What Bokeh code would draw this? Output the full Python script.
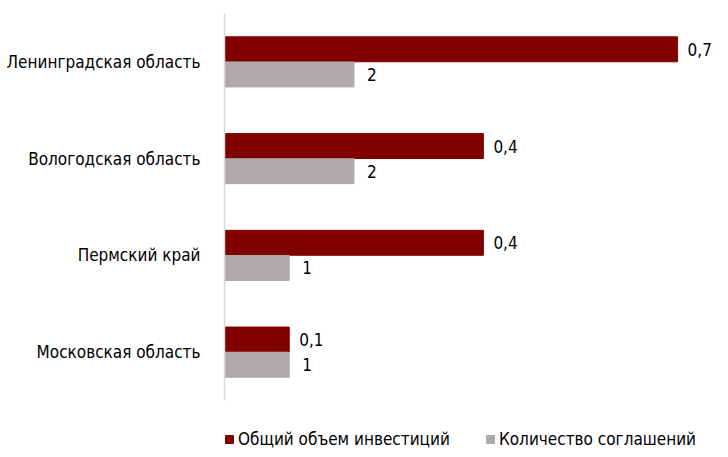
from bokeh.plotting import figure
from bokeh.layouts import column
from bokeh.models import ColumnDataSource, Range1d, Legend, LegendItem
from bokeh.transform import dodge
from bokeh.core.properties import value
from bokeh.embed import file_html
from bokeh.resources import INLINE

regions = ["Ленинградская область", "Вологодская область", "Пермский край", "Московская область"]
investment = [0.7, 0.4, 0.4, 0.1]
agreements = [2, 2, 1, 1]
inv_labels = ["0,7", "0,4", "0,4", "0,1"]
agr_labels = ["2", "2", "1", "1"]
series_names = ["Общий объем инвестиций", "Количество соглашений"]

FONT = "DejaVu Sans Condensed"
FS = "17px"
RED = "#800000"
GREY = "#AEAAAA"

src = ColumnDataSource(dict(region=regions, inv=investment, agr=agreements,
                            inv_lab=inv_labels, agr_lab=agr_labels))

x_end = 0.754
p = figure(width=712, height=405, output_backend="svg", toolbar_location=None,
           y_range=list(reversed(regions)),
           x_range=Range1d(0, x_end),
           min_border_left=224, min_border_right=0, min_border_top=13, min_border_bottom=5,
           outline_line_color=None)
p.extra_x_ranges = {"cnt": Range1d(0, x_end * 10)}

y_inv = dodge("region", 0.13, range=p.y_range)
y_agr = dodge("region", -0.13, range=p.y_range)

p.hbar(y=y_inv, right="inv", left=0, height=0.258,
       source=src, fill_color=RED, line_color=RED)
p.hbar(y=y_agr, right="agr", left=0, height=0.258,
       source=src, fill_color=GREY, line_color=GREY, x_range_name="cnt")

p.text(x="inv", y=y_inv, text="inv_lab", source=src,
       x_offset=10, text_baseline="middle", text_font=value(FONT), text_font_size=FS,
       text_color="#000000")
p.text(x="agr", y=y_agr, text="agr_lab", source=src,
       x_offset=13, text_baseline="middle", text_font=value(FONT), text_font_size=FS,
       text_color="#000000", x_range_name="cnt")

p.xaxis.visible = False
p.xgrid.visible = False
p.ygrid.visible = False
yax = p.yaxis[0]
yax.axis_line_color = "#D9D9D9"
yax.axis_line_width = 1.5
yax.major_tick_line_color = None
yax.minor_tick_line_color = None
yax.major_label_text_font = FONT
yax.major_label_text_font_size = FS
yax.major_label_text_color = "#000000"
yax.major_label_standoff = 18

# legend strip below the chart (its swatch renderers share the data but lie outside its view)
lf = figure(width=712, height=44, output_backend="svg", toolbar_location=None,
            x_range=Range1d(0, 1), y_range=Range1d(10, 54),
            x_axis_type=None, y_axis_type=None,
            min_border_left=0, min_border_right=0, min_border_top=0, min_border_bottom=0,
            outline_line_color=None)
lf.xgrid.visible = False
lf.ygrid.visible = False
s1 = lf.hbar(y="inv", right="inv", left=0, height=0.01, source=src,
             fill_color=RED, line_color=RED)
s2 = lf.hbar(y="inv", right="inv", left=0, height=0.01, source=src,
             fill_color=GREY, line_color=GREY)

legend = Legend(items=[LegendItem(label=series_names[0], renderers=[s1]),
                       LegendItem(label=series_names[1], renderers=[s2])],
                orientation="horizontal", location=(0, 0),
                label_text_font=FONT, label_text_font_size=FS, label_text_color="#000000",
                label_height=17, glyph_width=10, glyph_height=10, spacing=35, label_standoff=4,
                border_line_color=None, background_fill_alpha=0, padding=0, margin=0)
lf.add_layout(legend, "center")

layout = column(p, lf, spacing=0)
open("out.html", "w").write(file_html(layout, INLINE))
